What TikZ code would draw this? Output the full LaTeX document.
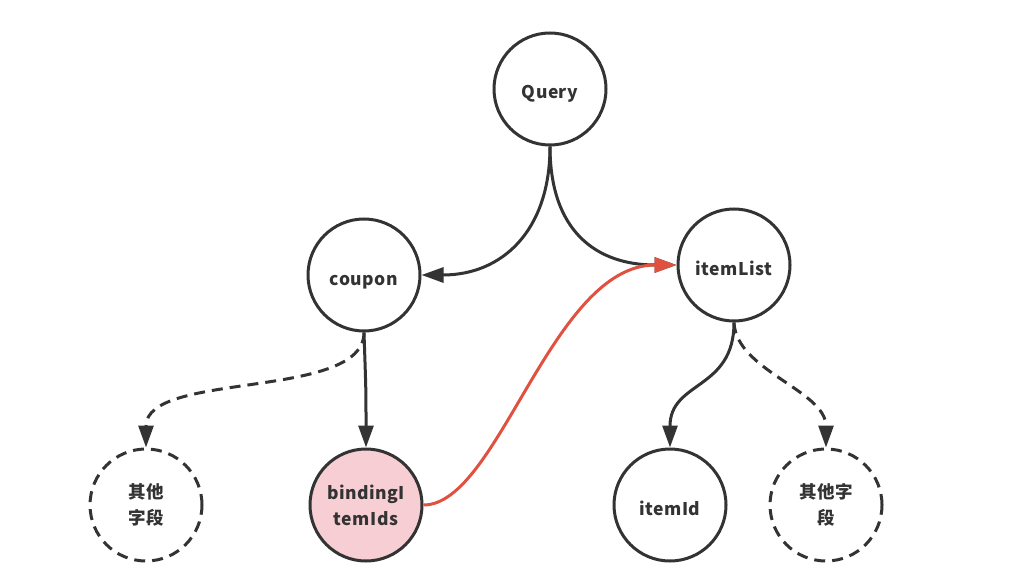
\documentclass[tikz,border=0pt]{standalone}
\usepackage{fontspec}
\newfontfamily\cjk{Noto Sans CJK SC}[LetterSpace=3]
\usetikzlibrary{arrows.meta,calc}
\definecolor{ink}{HTML}{333333}
\definecolor{redline}{HTML}{E0513F}
\definecolor{pinkfill}{HTML}{F7CED3}
\tikzset{
  circ/.style={circle, draw=ink, line width=3pt, minimum size=112pt, inner sep=0pt,
    font=\cjk\bfseries\fontsize{17.5}{26}\selectfont, text=ink, align=center},
  oneline/.style={text height=20pt, text depth=0pt},
  dashcirc/.style={circ, dash pattern=on 11pt off 7pt},
  conn/.style={draw=ink, line width=3pt, -{Triangle[length=22pt,width=15pt]}},
  dconn/.style={conn, dash pattern=on 11pt off 7pt},
  redconn/.style={draw=redline, line width=3pt, -{Triangle[length=22pt,width=15pt]}},
}
\begin{document}
\begin{tikzpicture}[x=1pt,y=-1pt]
\useasboundingbox (0,0) rectangle (1024,588);
\node[circ, oneline] (query) at (550,89) {Query};
\node[circ, oneline] (coupon) at (364,275) {coupon};
\node[circ, oneline] (itemlist) at (734,265) {itemList};
\node[dashcirc] (other1) at (146,505) {其他\\字段};
\node[circ, fill=pinkfill] (binding) at (366,505) {bindingI\\temIds};
\node[circ, oneline] (itemid) at (670,505) {itemId};
\node[dashcirc] (other2) at (826,505) {其他字\\段};
\coordinate (qb) at (query.south);
\coordinate (cb) at (coupon.south);
\coordinate (lb) at (itemlist.south);
\draw[conn] (qb) .. controls ($(qb)+(0,85)$) and ($(coupon.east)+(80,0)$) .. (coupon.east);
\draw[conn] (qb) .. controls ($(qb)+(0,85)$) and ($(itemlist.west)+(-80,0)$) .. (itemlist.west);
\draw[dconn] (cb) .. controls ($(cb)+(0,68)$) and ($(other1.north)+(0,-77)$) .. (other1.north);
\draw[conn] (cb) .. controls ($(cb)+(2,60)$) and ($(binding.north)+(0,-60)$) .. (binding.north);
\draw[conn] (lb) .. controls ($(lb)+(0,68)$) and ($(itemid.north)+(0,-67)$) .. (itemid.north);
\draw[dconn] (lb) .. controls ($(lb)+(2,48)$) and ($(other2.north)+(0,-57)$) .. (other2.north);
\draw[redconn] (binding.east) .. controls ($(binding.east)+(75,0)$) and ($(itemlist.west)+(-125,0)$) .. (itemlist.west);
\end{tikzpicture}
\end{document}
